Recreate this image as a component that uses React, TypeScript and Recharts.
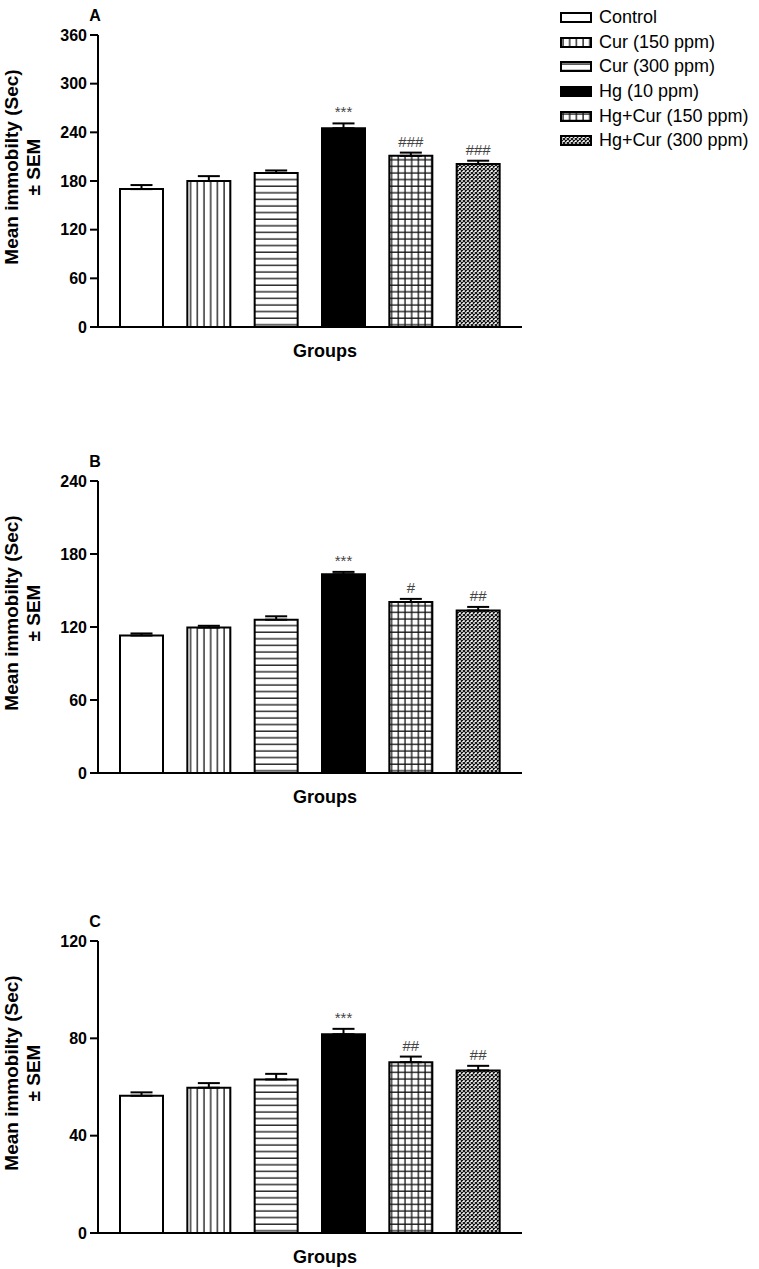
import { BarChart, Bar, XAxis, YAxis, ErrorBar, Cell, LabelList, Label } from "recharts";

const groups = ["Control", "Cur (150 ppm)", "Cur (300 ppm)", "Hg (10 ppm)", "Hg+Cur (150 ppm)", "Hg+Cur (300 ppm)"];

const meansA = [170, 180, 190, 245, 211, 201];
const semsA = [5, 6, 3, 6, 4, 4];
const marksA = ["", "", "", "***", "###", "###"];
const ticksA = [0, 60, 120, 180, 240, 300, 360];

const meansB = [113, 119.5, 126, 163.3, 140.5, 133.5];
const semsB = [1.7, 1.5, 2.8, 2, 2.6, 3];
const marksB = ["", "", "", "***", "#", "##"];
const ticksB = [0, 60, 120, 180, 240];

const meansC = [56.4, 59.7, 63.1, 81.7, 70.2, 66.8];
const semsC = [1.4, 1.9, 2.3, 2.2, 2.3, 1.9];
const marksC = ["", "", "", "***", "##", "##"];
const ticksC = [0, 40, 80, 120];

const fills = ["#fff", "url(#pVert)", "url(#pHoriz)", "#000", "url(#pGrid)", "url(#pCheck)"];

const FONT = "'Liberation Sans', Arial, sans-serif";

function Patterns() {
  return (
    <svg width="0" height="0" style={{ position: "absolute" }}>
      <defs>
        <pattern id="pVert" width="6.7" height="6.7" patternUnits="userSpaceOnUse">
          <rect width="6.7" height="6.7" fill="#fff" />
          <line x1="3" y1="0" x2="3" y2="6.7" stroke="#111" strokeWidth="1.3" />
        </pattern>
        <pattern id="pHoriz" width="6.7" height="6.6" patternUnits="userSpaceOnUse">
          <rect width="6.7" height="6.6" fill="#fff" />
          <line x1="0" y1="3" x2="6.7" y2="3" stroke="#111" strokeWidth="1.3" />
        </pattern>
        <pattern id="pGrid" width="6.7" height="6.6" patternUnits="userSpaceOnUse">
          <rect width="6.7" height="6.6" fill="#fff" />
          <line x1="3" y1="0" x2="3" y2="6.6" stroke="#111" strokeWidth="1.3" />
          <line x1="0" y1="3" x2="6.7" y2="3" stroke="#111" strokeWidth="1.3" />
        </pattern>
        <pattern id="pCheck" width="4" height="4" patternUnits="userSpaceOnUse">
          <rect width="4" height="4" fill="#fff" />
          <path d="M0,0 L4,4 M4,0 L0,4" stroke="#111" strokeWidth="1.2" />
        </pattern>
      </defs>
    </svg>
  );
}

interface PanelProps {
  title: string;
  top: number;
  means: number[];
  sems: number[];
  marks: string[];
  ticks: number[];
}

function Panel({ title, top, means, sems, marks, ticks }: PanelProps) {
  const data = groups.map((g, i) => ({ group: g, mean: means[i], err: [0, sems[i]], mark: marks[i] }));
  const max = ticks[ticks.length - 1];

  const renderMark = (props: any) => {
    const { x, y, width, height, index } = props;
    const m = marks[index];
    if (!m) return null;
    const capY = y - (sems[index] * height) / means[index];
    return (
      <text x={x + width / 2} y={capY - 6} textAnchor="middle" fill="#444" fontSize={15} fontFamily={FONT}>
        {m}
      </text>
    );
  };

  const renderYLabel = (props: any) => {
    const vb = props.viewBox;
    const cy = vb.y + vb.height / 2 - 14;
    return (
      <g fontFamily={FONT} fontWeight="bold" fill="#000">
        <text x={vb.x + vb.width - 3} y={vb.y - 20} textAnchor="middle" dominantBaseline="central" fontSize={16}>
          {title}
        </text>
        <text x={11.7} y={cy} transform={`rotate(-90, 11.7, ${cy})`} textAnchor="middle" dominantBaseline="central" fontSize={19}>
          Mean immobilty (Sec)
        </text>
        <text x={33} y={cy} transform={`rotate(-90, 33, ${cy})`} textAnchor="middle" dominantBaseline="central" fontSize={19}>
          ± SEM
        </text>
      </g>
    );
  };

  const renderXLabel = (props: any) => {
    const vb = props.viewBox;
    return (
      <text x={vb.x + vb.width / 2 + 15} y={vb.y + 24} textAnchor="middle" dominantBaseline="central" fontFamily={FONT} fontWeight="bold" fontSize={18} fill="#000">
        Groups
      </text>
    );
  };

  return (
    <div style={{ position: "absolute", left: 0, top, width: 540, height: 362 }}>
      <BarChart width={540} height={362} data={data} margin={{ top: 30, right: 18, left: 38, bottom: 10 }}>
        <XAxis
          dataKey="group"
          tick={false}
          tickLine={false}
          axisLine={{ stroke: "#000", strokeWidth: 2 }}
          height={30}
          padding={{ left: 10, right: 10 }}
        >
          <Label content={renderXLabel} />
        </XAxis>
        <YAxis
          width={60}
          domain={[0, max]}
          ticks={ticks}
          interval={0}
          tickSize={8}
          tickMargin={3}
          axisLine={{ stroke: "#000", strokeWidth: 2 }}
          tickLine={{ stroke: "#000", strokeWidth: 2 }}
          tick={{ fill: "#000", fontSize: 16, fontWeight: "bold", fontFamily: FONT }}
        >
          <Label content={renderYLabel} />
        </YAxis>
        <Bar dataKey="mean" barSize={43} stroke="#000" strokeWidth={2} isAnimationActive={false}>
          {data.map((d, i) => (
            <Cell key={d.group} fill={fills[i]} />
          ))}
          <ErrorBar dataKey="err" direction="y" width={11} stroke="#000" strokeWidth={2} />
          <LabelList dataKey="mark" content={renderMark} />
        </Bar>
      </BarChart>
    </div>
  );
}

function Legend() {
  return (
    <div style={{ position: "absolute", left: 560, top: 5, fontFamily: FONT, fontSize: 18, color: "#000" }}>
      {groups.map((g, i) => (
        <div key={g} style={{ display: "flex", alignItems: "center", height: 24.7 }}>
          <svg width="32" height="11" style={{ marginRight: 7 }}>
            <rect x="1" y="1" width="30" height="9" fill={fills[i]} stroke="#000" strokeWidth="2" />
          </svg>
          <span>{g}</span>
        </div>
      ))}
    </div>
  );
}

export default function App() {
  return (
    <div style={{ position: "absolute", left: 0, top: 0, width: 759, height: 1269, background: "#fff" }}>
      <Patterns />
      <Panel title="A" top={4.5} means={meansA} sems={semsA} marks={marksA} ticks={ticksA} />
      <Panel title="B" top={451} means={meansB} sems={semsB} marks={marksB} ticks={ticksB} />
      <Panel title="C" top={910.7} means={meansC} sems={semsC} marks={marksC} ticks={ticksC} />
      <Legend />
    </div>
  );
}
